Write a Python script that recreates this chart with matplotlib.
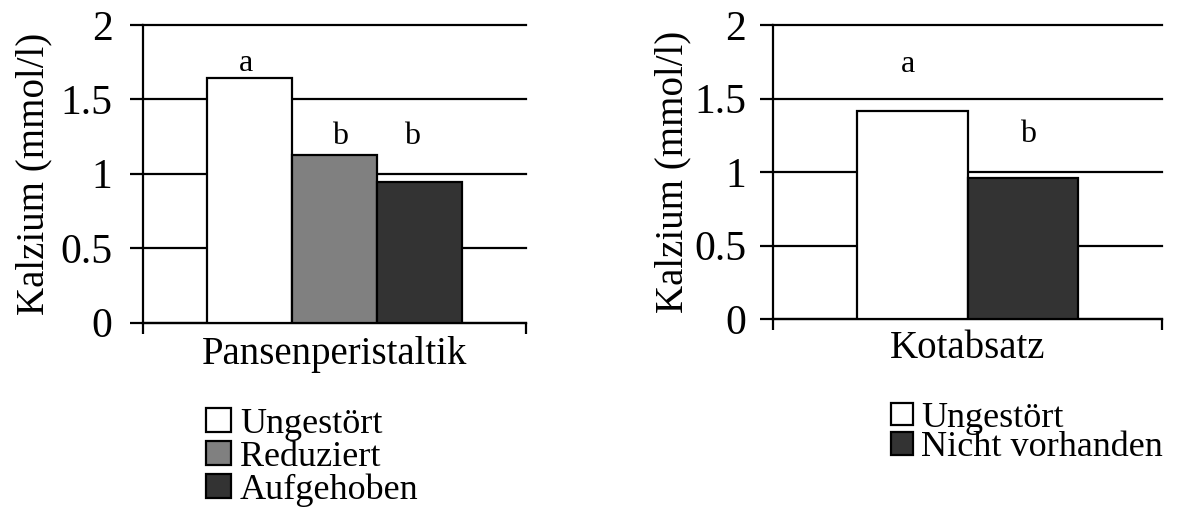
import matplotlib
matplotlib.use("Agg")
import matplotlib.pyplot as plt

plt.rcParams["font.family"] = ["Liberation Serif", "DejaVu Serif"]

# Left panel: rumen motility (Pansenperistaltik)
left_category = "Pansenperistaltik"
left_groups = ["Ungestört", "Reduziert", "Aufgehoben"]
left_values = [1.645, 1.127, 0.947]
left_letters = ["a", "b", "b"]
left_colors = ["#ffffff", "#808080", "#333333"]

# Right panel: defecation (Kotabsatz)
right_category = "Kotabsatz"
right_groups = ["Ungestört", "Nicht vorhanden"]
right_values = [1.415, 0.957]
right_letters = ["a", "b"]
right_colors = ["#ffffff", "#333333"]

y_label = "Kalzium (mmol/l)"
y_ticks = [0, 0.5, 1, 1.5, 2]
y_tick_labels = ["0", "0.5", "1", "1.5", "2"]

W, H = 1181, 508
fig = plt.figure(figsize=(W / 100, H / 100), dpi=100)


def px_rect(x0, y0, x1, y1):
    return [x0 / W, 1 - y1 / H, (x1 - x0) / W, (y1 - y0) / H]


def panel(rect, groups, values, colors, letters, letter_dx, letter_y,
          bar_w, category, label_pad, ytick_pad, ylabel_x, legend_anchor,
          legend_kw):
    ax = fig.add_axes(rect)
    n = len(values)
    offsets = [(i - (n - 1) / 2) * bar_w for i in range(n)]
    bars = []
    for off, v, c, g in zip(offsets, values, colors, groups):
        b = ax.bar(off, v, width=bar_w, color=c, edgecolor="black",
                   linewidth=1.6, label=g, zorder=3)
        bars.append(b)
    for off, dx, ly, t in zip(offsets, letter_dx, letter_y, letters):
        ax.text(off + dx, ly, t, ha="center", va="baseline", fontsize=23,
                zorder=4)

    ax.set_xlim(-0.5, 0.5)
    ax.set_ylim(0, 2)
    ax.set_yticks(y_ticks)
    ax.set_yticklabels(y_tick_labels)
    ax.set_xticks([0])
    ax.set_xticklabels([category])
    ax.set_xticks([-0.5, 0.5], minor=True)

    for side in ("top", "right"):
        ax.spines[side].set_visible(False)
    for side in ("left", "bottom"):
        ax.spines[side].set_linewidth(1.6)

    ax.tick_params(axis="y", direction="out", length=9.4, width=1.6,
                   labelsize=30, pad=ytick_pad)
    ax.tick_params(axis="x", which="major", length=0, labelsize=28,
                   pad=label_pad)
    ax.tick_params(axis="x", which="minor", direction="out", length=8,
                   width=1.6)

    ax.set_axisbelow(True)
    ax.yaxis.grid(True, color="black", linewidth=1.6)
    for gl in ax.get_ygridlines():
        gl.set_clip_on(False)

    # axis title placed with its baseline at a fixed position
    x0, y0, w, h = rect
    fig.text(ylabel_x / W, y0 + h / 2, y_label, rotation=90,
             rotation_mode="anchor", ha="center", va="baseline", fontsize=28)

    fig.legend(handles=bars, labels=groups, loc="upper left",
               bbox_to_anchor=legend_anchor, frameon=False, borderpad=0,
               borderaxespad=0, fontsize=26, **legend_kw)
    return ax


panel(px_rect(143, 25, 526, 322.5), left_groups, left_values, left_colors,
      left_letters, [-0.009, 0.015, -0.021], [1.69, 1.20, 1.20],
      0.2228, left_category, 9.5, 12.5, 43,
      (206 / W, 1 - 408 / H),
      dict(handlelength=0.69, handleheight=0.66, handletextpad=0.25,
           labelspacing=-0.01))

panel(px_rect(773, 25, 1162, 319), right_groups, right_values, right_colors,
      right_letters, [-0.010, 0.012], [1.68, 1.204],
      0.2853, right_category, 8, 10, 682,
      (891 / W, 1 - 402 / H),
      dict(handlelength=0.61, handleheight=0.58, handletextpad=0.22,
           labelspacing=-0.1))

fig.savefig("out.png", dpi=100)
